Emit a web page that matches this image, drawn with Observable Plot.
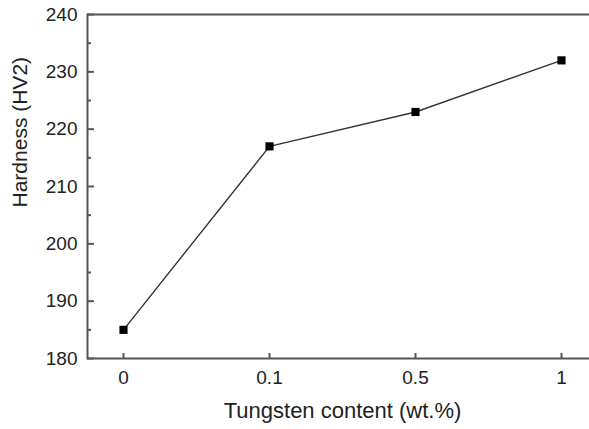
<!DOCTYPE html>
<html>
<head>
<meta charset="utf-8">
<script src="https://cdn.jsdelivr.net/npm/d3@7"></script>
<script src="https://cdn.jsdelivr.net/npm/@observablehq/plot@0.6"></script>
<style>
  html, body { margin: 0; padding: 0; background: white; }
</style>
</head>
<body>
<div id="chart"></div>
<script>
const categories = ["0", "0.1", "0.5", "1"];
const hardness = [185, 217, 223, 232];
const yMajorTicks = [180, 190, 200, 210, 220, 230, 240];
const yMinorTicks = [185, 195, 205, 215, 225, 235];
const xTitle = "Tungsten content (wt.%)";
const yTitle = "Hardness (HV2)";

const data = categories.map((c, i) => ({w: c, h: hardness[i]}));

const W = 589, H = 429, mL = 87, mR = -8, mT = 14, mB = 71;
const frameW = W - mL - mR, frameH = H - mT - mB;
const axisColor = "#555";

const chart = Plot.plot({
  width: W,
  height: H,
  marginLeft: mL,
  marginRight: mR,
  marginTop: mT,
  marginBottom: mB,
  style: {fontFamily: "'Liberation Sans', Arial, sans-serif", fontSize: "19px", color: "#222", background: "white", overflow: "hidden"},
  x: {type: "point", domain: categories, padding: 0.245, label: null},
  y: {domain: [180, 240], label: null},
  marks: [
    Plot.tickY(yMajorTicks, {y: d => d, insetRight: frameW - 7, stroke: axisColor, strokeWidth: 2}),
    Plot.tickY(yMinorTicks, {y: d => d, insetRight: frameW - 4, stroke: axisColor, strokeWidth: 2}),
    Plot.tickX(categories, {x: d => d, insetTop: frameH - 5, stroke: axisColor, strokeWidth: 2}),
    Plot.axisY(yMajorTicks, {tickSize: 0, tickPadding: 10, fill: "#222", label: null}),
    Plot.axisX(categories, {tickSize: 0, tickPadding: 12, fill: "#222", label: null}),
    Plot.frame({stroke: axisColor, strokeWidth: 2}),
    Plot.line(data, {x: "w", y: "h", stroke: "#333", strokeWidth: 1.4}),
    Plot.dot(data, {x: "w", y: "h", symbol: "square", fill: "black", stroke: "none", r: 4.6}),
    Plot.text([xTitle], {frameAnchor: "bottom", text: d => d, lineAnchor: "top", dy: 44, fill: "#222", fontSize: 22}),
    Plot.text([yTitle], {frameAnchor: "left", text: d => d, rotate: -90, dx: -67, dy: 21, fill: "#222", fontSize: 21})
  ]
});

document.getElementById("chart").append(chart);
</script>
</body>
</html>
